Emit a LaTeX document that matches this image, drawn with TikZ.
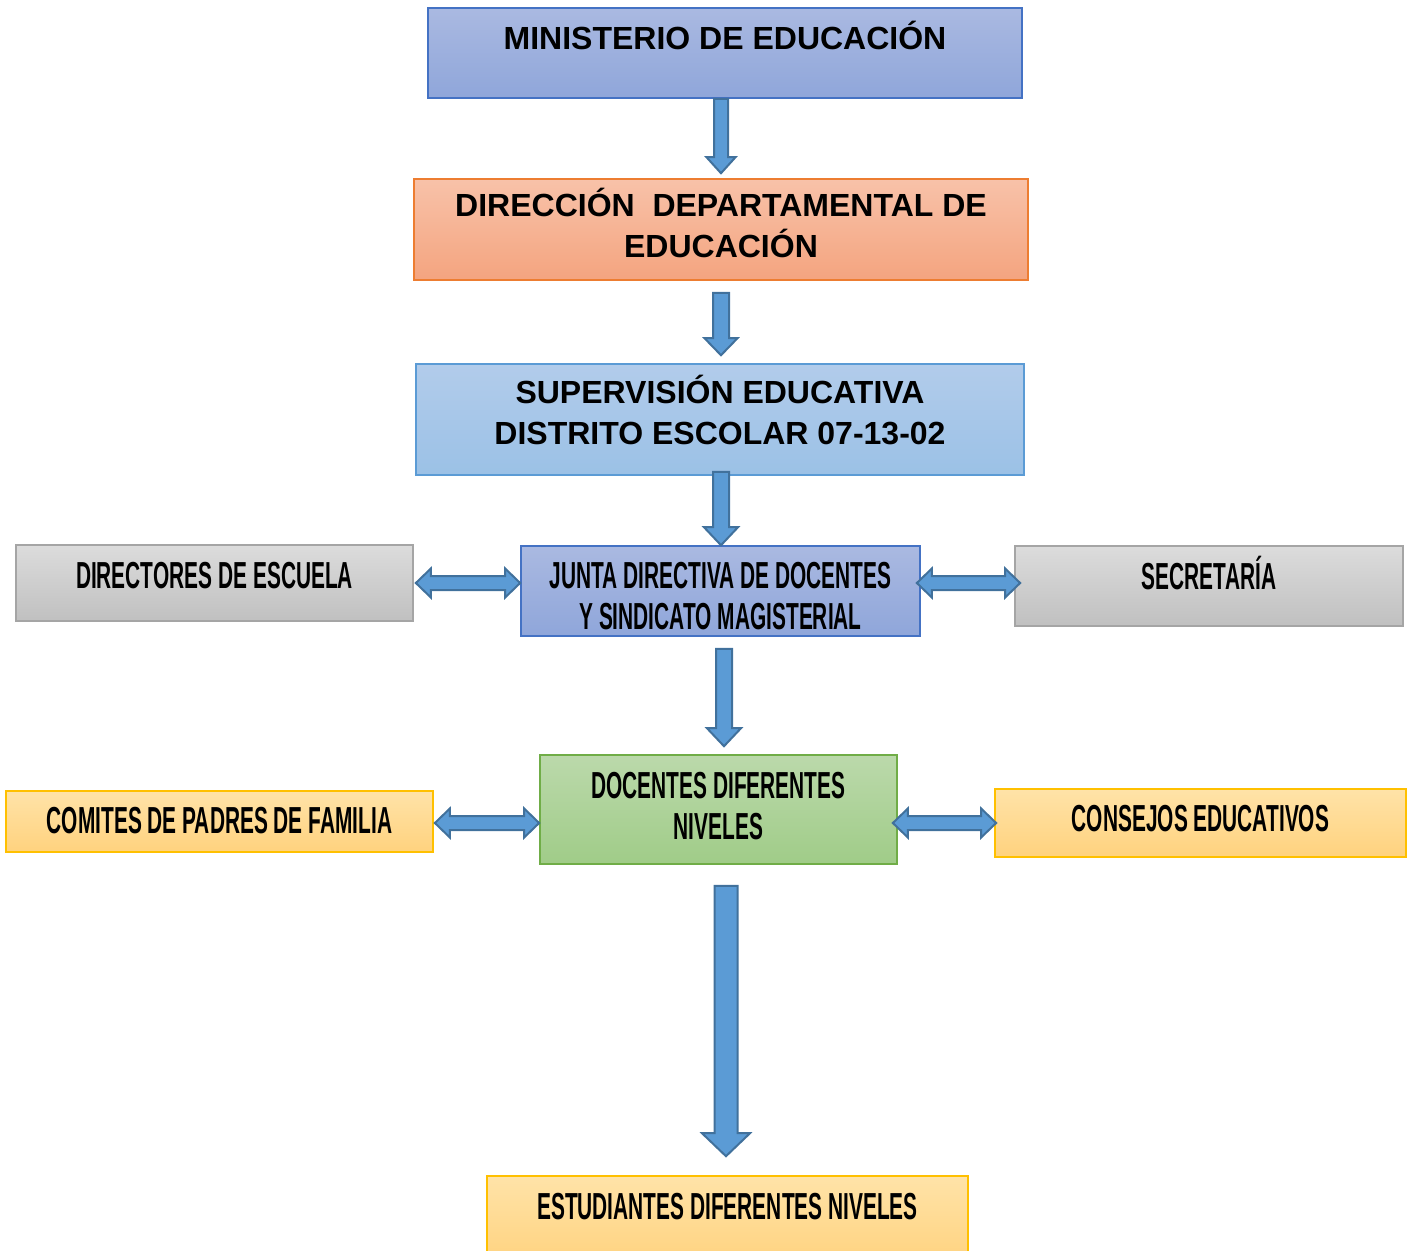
\documentclass[tikz,border=0pt]{standalone}
\usepackage{fontspec}
\setmainfont{Liberation Sans}
\newfontfamily\narrowfont[FakeStretch=0.555]{Liberation Sans}
\usetikzlibrary{calc}

\definecolor{bluetop}{HTML}{AAB9E1}
\definecolor{bluebot}{HTML}{8FA6DA}
\definecolor{blueline}{HTML}{4472C4}
\definecolor{orangetop}{HTML}{F8C2A9}
\definecolor{orangebot}{HTML}{F4A47F}
\definecolor{orangeline}{HTML}{ED7D31}
\definecolor{skytop}{HTML}{B2CCEB}
\definecolor{skybot}{HTML}{9BC1E6}
\definecolor{skyline}{HTML}{5B9BD5}
\definecolor{graytop}{HTML}{DCDCDC}
\definecolor{graybot}{HTML}{C0C0C0}
\definecolor{grayline}{HTML}{A5A5A5}
\definecolor{greentop}{HTML}{BBD9AB}
\definecolor{greenbot}{HTML}{A0CC88}
\definecolor{greenline}{HTML}{70AD47}
\definecolor{yellowtop}{HTML}{FFE3A8}
\definecolor{yellowbot}{HTML}{FFD27E}
\definecolor{yellowline}{HTML}{FFC000}
\definecolor{arrowfill}{HTML}{5B9BD5}
\definecolor{arrowline}{HTML}{41719C}

\tikzset{
  box/.style={draw, line width=0.015cm, inner sep=0pt},
  bluebox/.style={box, draw=blueline, top color=bluetop, bottom color=bluebot},
  orangebox/.style={box, draw=orangeline, top color=orangetop, bottom color=orangebot},
  skybox/.style={box, draw=skyline, top color=skytop, bottom color=skybot},
  graybox/.style={box, draw=grayline, top color=graytop, bottom color=graybot},
  greenbox/.style={box, draw=greenline, top color=greentop, bottom color=greenbot},
  yellowbox/.style={box, draw=yellowline, top color=yellowtop, bottom color=yellowbot},
  widetext/.style={font=\bfseries\fontsize{9.1}{11.4}\selectfont, align=center},
  narrowtext/.style={font=\narrowfont\bfseries\fontsize{10.7}{11.8}\selectfont, align=center},
  blockarrow/.style={fill=arrowfill, draw=arrowline, line width=0.02cm, line join=miter}
}

% block arrow pointing down: from, to, shaft half width, head half width, head length (px)
\newcommand\vblock[5]{%
  \draw[blockarrow] let \p1=#1, \p2=#2 in
    (\x1-#3*0.01cm,\y1) -- (\x1-#3*0.01cm,\y2+#5*0.01cm) -- (\x1-#4*0.01cm,\y2+#5*0.01cm) -- (\x1,\y2)
    -- (\x1+#4*0.01cm,\y2+#5*0.01cm) -- (\x1+#3*0.01cm,\y2+#5*0.01cm) -- (\x1+#3*0.01cm,\y1) -- cycle;}
% double block arrow, left to right
\newcommand\hblock[5]{%
  \draw[blockarrow] let \p1=#1, \p2=#2 in
    (\x1,\y1) -- (\x1+#5*0.01cm,\y1+#4*0.01cm) -- (\x1+#5*0.01cm,\y1+#3*0.01cm)
    -- (\x2-#5*0.01cm,\y1+#3*0.01cm) -- (\x2-#5*0.01cm,\y1+#4*0.01cm) -- (\x2,\y1)
    -- (\x2-#5*0.01cm,\y1-#4*0.01cm) -- (\x2-#5*0.01cm,\y1-#3*0.01cm)
    -- (\x1+#5*0.01cm,\y1-#3*0.01cm) -- (\x1+#5*0.01cm,\y1-#4*0.01cm) -- cycle;}

\begin{document}
\begin{tikzpicture}[x=0.01cm, y=-0.01cm]
    \useasboundingbox (0,0) rectangle (1411,1251);

    \node[bluebox, widetext, minimum width=5.94cm, minimum height=0.90cm, text height=0.30cm, text depth=0.38cm] at (725,53) (min) {MINISTERIO DE EDUCACIÓN};
    \node[orangebox, widetext, minimum width=6.14cm, minimum height=1.01cm, text height=0.55cm, text depth=0cm] at (721,229.5) (dir) {DIRECCIÓN\ \ DEPARTAMENTAL DE\\EDUCACIÓN};
    \node[skybox, widetext, minimum width=6.08cm, minimum height=1.11cm, text height=0.49cm, text depth=0cm] at (720,419.5) (sup) {SUPERVISIÓN EDUCATIVA\\DISTRITO ESCOLAR 07-13-02};

    \node[bluebox, narrowtext, minimum width=3.99cm, minimum height=0.90cm, text height=0.77cm, text depth=0cm] at (720.5,591) (junta) {JUNTA DIRECTIVA DE DOCENTES\\Y SINDICATO MAGISTERIAL};
    \node[graybox, narrowtext, minimum width=3.97cm, minimum height=0.76cm, text height=0.30cm, text depth=0.19cm] at (214.5,583) (dirs) {DIRECTORES DE ESCUELA};
    \node[graybox, narrowtext, minimum width=3.88cm, minimum height=0.80cm, text height=0.30cm, text depth=0.23cm] at (1209,586) (sec) {SECRETARÍA};

    \node[greenbox, narrowtext, minimum width=3.57cm, minimum height=1.09cm, text height=0.60cm, text depth=0cm] at (718.5,809.5) (doc) {DOCENTES DIFERENTES\\NIVELES};
    \node[yellowbox, narrowtext, minimum width=4.27cm, minimum height=0.61cm, text height=0.30cm, text depth=0.06cm] at (219.5,821.5) (com) {COMITES DE PADRES DE FAMILIA};
    \node[yellowbox, narrowtext, minimum width=4.11cm, minimum height=0.68cm, text height=0.30cm, text depth=0.13cm] at (1200.5,823) (cons) {CONSEJOS EDUCATIVOS};

    \node[yellowbox, narrowtext, minimum width=4.81cm, minimum height=0.90cm, text height=0.30cm, text depth=0.33cm] at (727.5,1221) (est) {ESTUDIANTES DIFERENTES NIVELES};

    % down the chain
    \vblock{(min.south -| dir.north)}{($(dir.north)+(0,-5)$)}{7}{14.5}{16}
    \vblock{($(dir.south)+(0,12)$)}{($(sup.north)+(1,-8)$)}{8}{16.5}{17}
    \vblock{($(sup.south)+(1,-4)$)}{(junta.north)}{8}{17}{18}
    \vblock{($(junta.south)+(3.5,12)$)}{($(doc.north)+(5.5,-8)$)}{8}{17}{18}
    \vblock{($(doc.south)+(7.5,21)$)}{($(est.north)+(0,-19)$)}{11.5}{24}{23}

    % both ways
    \hblock{($(dirs.east)+(2,0)$)}{(junta.west |- dirs.east)}{7}{14.5}{15}
    \hblock{($(junta.east |- dirs.east)+(-4,0)$)}{($(sec.west |- dirs.east)+(6,0)$)}{7}{14.5}{15}
    \hblock{($(com.east)+(1,1.5)$)}{(doc.west |- cons.west)}{7}{14.5}{15}
    \hblock{($(doc.east |- cons.west)+(-5,0)$)}{($(cons.west)+(2,0)$)}{7}{14.5}{15}
\end{tikzpicture}
\end{document}
